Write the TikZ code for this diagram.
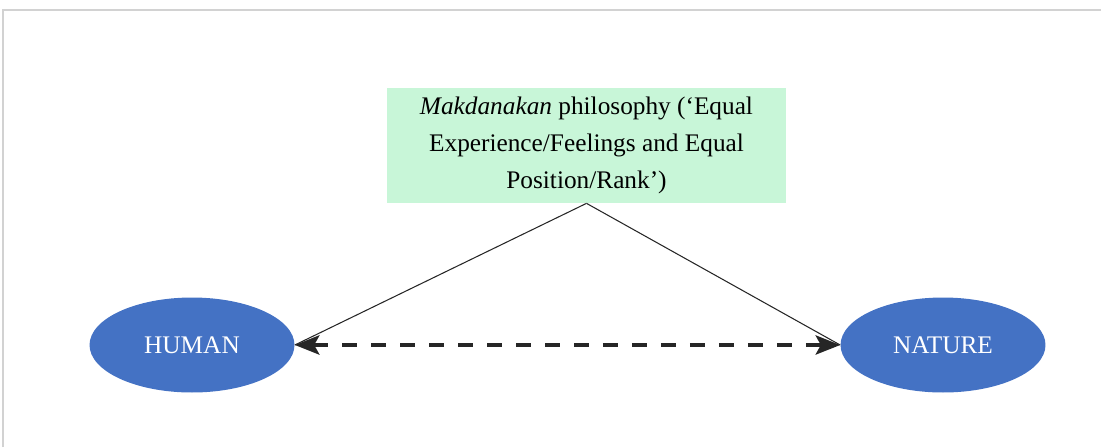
\documentclass[tikz,border=0pt]{standalone}
\usepackage{fontspec}
\setmainfont{Liberation Serif}
\usetikzlibrary{arrows.meta, positioning, shapes.geometric}

\definecolor{mint}{RGB}{200,246,216}
\definecolor{ovalblue}{RGB}{68,114,196}

\begin{document}
\begin{tikzpicture}[x=0.02cm, y=-0.02cm,
  idea/.style={fill=mint, minimum width=7.98cm, minimum height=2.3cm, align=center,
    font=\fontsize{14.4}{21}\selectfont},
  party/.style={ellipse, fill=ovalblue, minimum width=4.1cm, minimum height=1.9cm,
    text=white, font=\fontsize{14.4}{17}\selectfont},
  link/.style={black!85, line width=0.6pt},
  mutual/.style={black!85, line width=1.9pt, dash pattern=on 8.5pt off 8pt,
    {Stealth[length=14pt, width=11pt, inset=3pt]}-{Stealth[length=14pt, width=11pt, inset=3pt]}}]

  \useasboundingbox (0,0) rectangle (1101,447);
  % frame, only partly in view
  \draw[gray!35, line width=1pt] (3,447) -- (3,10) -- (1101,10);

  \node[idea] (phil) at (586.5,145.5) {\textit{Makdanakan} philosophy (`Equal\\
    Experience/Feelings and Equal\\ Position/Rank')};
  \node[party] (human) at (192,345) {HUMAN};
  \node[party] (nature) at (943,345) {NATURE};

  \draw[link] (phil.south) -- (human.east);
  \draw[link] (phil.south) -- (nature.west);
  \draw[mutual] (human.east) -- (nature.west);

\end{tikzpicture}
\end{document}
